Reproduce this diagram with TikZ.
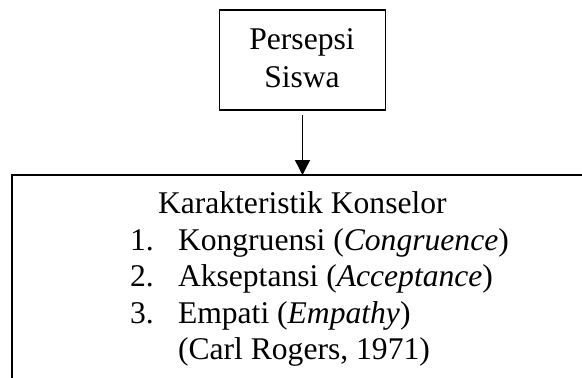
\documentclass[tikz,border=0pt]{standalone}
\usepackage{fontspec}
\setmainfont{Liberation Serif}
\usetikzlibrary{arrows.meta}
\begin{document}
\begin{tikzpicture}[x=1pt,y=-1pt,
  box/.style={draw, line width=1.4pt, inner sep=0pt, outer sep=0pt, rectangle},
  txt/.style={font=\fontsize{31.6}{36.5}\selectfont, inner sep=0pt, outer sep=0pt},
  arrowline/.style={line width=1.4pt, shorten <=5pt, -{Triangle[length=15pt,width=15pt]}}]
\useasboundingbox (0,0) rectangle (582,378);
\clip (0,0) rectangle (582,378);
\node[box, minimum width=166pt, minimum height=100pt] (persepsi) at (302.5,60) {};
\node[box, minimum width=581pt, minimum height=245pt] (karakter) at (302.5,297.5) {};
\node[txt, anchor=base] (p1) at (302,49.5) {Persepsi};
\node[txt, anchor=base] (p2) at (302,87) {Siswa};
\draw[arrowline] (persepsi.south) -- (karakter.north);
\node[txt, anchor=base west] (t0) at (158,213) {Karakteristik Konselor};
\node[txt, anchor=base west] (n1) at (130,250) {1.};
\node[txt, anchor=base west] (i1) at (178,250) {Kongruensi (\textit{Congruence})};
\node[txt, anchor=base west] (n2) at (130,286.5) {2.};
\node[txt, anchor=base west] (i2) at (178,286.5) {Akseptansi (\textit{Acceptance})};
\node[txt, anchor=base west] (n3) at (130,323) {3.};
\node[txt, anchor=base west] (i3) at (178,323) {Empati (\textit{Empathy})};
\node[txt, anchor=base west] (i4) at (178,359.5) {(Carl Rogers, 1971)};
\end{tikzpicture}
\end{document}
